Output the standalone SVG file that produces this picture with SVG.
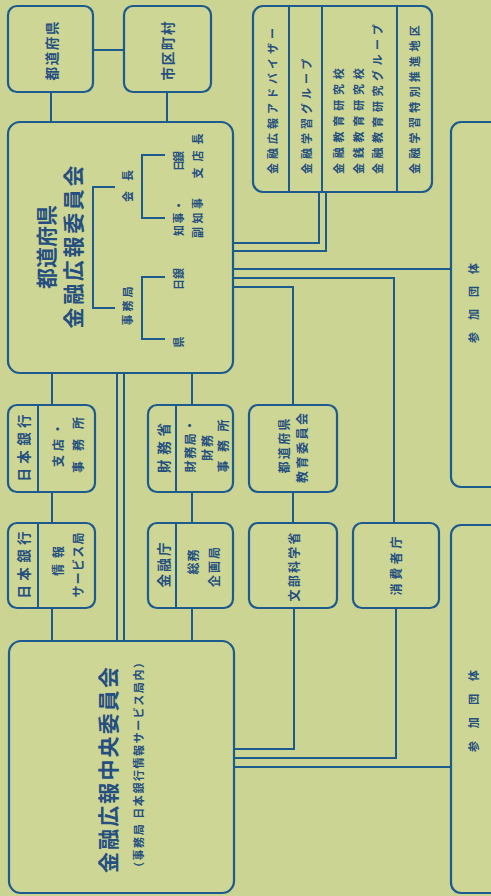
<svg xmlns="http://www.w3.org/2000/svg" width="491" height="896" viewBox="0 0 491 896">
<style>
.bg{fill:#cbd492}
.box{fill:#cdd695;stroke:#1d5a8e;stroke-width:2.2}
.div{stroke:#1d5a8e;stroke-width:2;fill:none}
.ln{stroke:#1d5a8e;stroke-width:2;fill:none}
text{font-family:"Noto Sans CJK JP","Noto Sans CJK SC",sans-serif;fill:#244f80;font-weight:700;text-anchor:middle;dominant-baseline:central}
.s{text-anchor:start}
.h1{font-size:21px}
.h2{font-size:13.5px}
.m{font-size:12px}
.sm{font-size:11px}
</style>
<rect class="bg" x="0" y="0" width="491" height="896"/>

<g id="connectors">
<line class="ln" x1="93" y1="50" x2="124" y2="50"/>
<line class="ln" x1="51" y1="92" x2="51" y2="122"/>
<line class="ln" x1="167" y1="92" x2="167" y2="122"/>
<line class="ln" x1="52" y1="373" x2="52" y2="405"/>
<line class="ln" x1="52" y1="492" x2="52" y2="523"/>
<line class="ln" x1="52" y1="608" x2="52" y2="641"/>
<line class="ln" x1="192" y1="373" x2="192" y2="405"/>
<line class="ln" x1="192" y1="492" x2="192" y2="523"/>
<line class="ln" x1="192" y1="608" x2="192" y2="641"/>
<line class="ln" x1="117" y1="373" x2="117" y2="641"/>
<line class="ln" x1="124" y1="373" x2="124" y2="641"/>
<polyline class="ln" points="233,243 319,243 319,192"/>
<polyline class="ln" points="233,251 326,251 326,192"/>
<line class="ln" x1="233" y1="269" x2="451" y2="269"/>
<polyline class="ln" points="233,278 394,278 394,523"/>
<polyline class="ln" points="233,287 293,287 293,405"/>
<line class="ln" x1="293" y1="492" x2="293" y2="523"/>
<polyline class="ln" points="294,608 294,749 234,749"/>
<polyline class="ln" points="396,608 396,758 234,758"/>
<line class="ln" x1="234" y1="767" x2="451" y2="767"/>
</g>

<g id="pref">
<rect class="box" x="8" y="6" width="85" height="86" rx="9"/>
<text class="h2" transform="translate(51 51) rotate(-90)" textLength="59">都道府県</text>
</g>

<g id="muni">
<rect class="box" x="124" y="6" width="87" height="86" rx="9"/>
<text class="h2" transform="translate(167 51) rotate(-90)" textLength="59">市区町村</text>
</g>

<g id="pref-committee">
<rect class="box" x="8" y="122" width="225" height="251" rx="12" stroke-width="2.6"/>
<text class="h1" transform="translate(45 247) rotate(-90)" textLength="84">都道府県</text>
<text class="h1" transform="translate(72 247) rotate(-90)" textLength="163">金融広報委員会</text>
<polyline class="div" points="115,187 93,187 93,308 115,308"/>
<polyline class="div" points="165,155 142,155 142,218 165,218"/>
<polyline class="div" points="165,277 142,277 142,339 165,339"/>
<text class="sm" transform="translate(127 186) rotate(-90)" textLength="32">会長</text>
<text class="sm" transform="translate(127 306) rotate(-90)" textLength="39">事務局</text>
<text class="sm" transform="translate(178 161) rotate(-90)" textLength="20">日銀</text>
<text class="sm" transform="translate(197 156) rotate(-90)" textLength="45">支店長</text>
<text class="sm" transform="translate(178 218) rotate(-90)" textLength="36">知事・</text>
<text class="sm" transform="translate(197 218) rotate(-90)" textLength="40">副知事</text>
<text class="sm" transform="translate(178 279) rotate(-90)" textLength="22">日銀</text>
<text class="sm" transform="translate(178 342) rotate(-90)">県</text>
</g>

<g id="members">
<rect class="box" x="253" y="6" width="179" height="186" rx="10"/>
<line class="div" x1="289" y1="6" x2="289" y2="192"/>
<line class="div" x1="322" y1="6" x2="322" y2="192"/>
<line class="div" x1="397" y1="6" x2="397" y2="192"/>
<text class="sm s" transform="translate(272 174) rotate(-90)" letter-spacing="4">金融広報アドバイザー</text>
<text class="sm s" transform="translate(306 174) rotate(-90)" letter-spacing="4">金融学習グループ</text>
<text class="sm s" transform="translate(338 174) rotate(-90)" letter-spacing="4.8">金融教育研究校</text>
<text class="sm s" transform="translate(358 174) rotate(-90)" letter-spacing="4.8">金銭教育研究校</text>
<text class="sm s" transform="translate(377 174) rotate(-90)" letter-spacing="4.5">金融教育研究グループ</text>
<text class="sm s" transform="translate(414 174) rotate(-90)" letter-spacing="4.3">金融学習特別推進地区</text>
</g>

<g id="sanka-1">
<rect class="box" x="451" y="122" width="60" height="365" rx="10"/>
<text class="sm" transform="translate(473 303) rotate(-90)" textLength="80">参加団体</text>
</g>

<g id="sanka-2">
<rect class="box" x="451" y="525" width="60" height="368" rx="10"/>
<text class="sm" transform="translate(473 711) rotate(-90)" textLength="82">参加団体</text>
</g>

<g id="boj-branch">
<rect class="box" x="8" y="405" width="87" height="87" rx="9"/>
<line class="div" x1="38" y1="405" x2="38" y2="492"/>
<text class="h2" transform="translate(23 448) rotate(-90)" textLength="67">日本銀行</text>
<text class="m" transform="translate(57 445) rotate(-90)" textLength="44">支店・</text>
<text class="m" transform="translate(77 445) rotate(-90)" textLength="56">事務所</text>
</g>

<g id="boj-info">
<rect class="box" x="8" y="523" width="87" height="85" rx="9"/>
<line class="div" x1="38" y1="523" x2="38" y2="608"/>
<text class="h2" transform="translate(23 565) rotate(-90)" textLength="67">日本銀行</text>
<text class="m" transform="translate(57 561) rotate(-90)" textLength="30">情報</text>
<text class="m" transform="translate(77 565) rotate(-90)" textLength="65">サービス局</text>
</g>

<g id="mof">
<rect class="box" x="148" y="405" width="85" height="87" rx="9"/>
<line class="div" x1="176" y1="405" x2="176" y2="492"/>
<text class="h2" transform="translate(163 448) rotate(-90)" textLength="50">財務省</text>
<text class="m" transform="translate(189 446) rotate(-90)" textLength="53">財務局・</text>
<text class="m" transform="translate(206 448) rotate(-90)" textLength="26">財務</text>
<text class="m" transform="translate(222 446) rotate(-90)" textLength="53">事務所</text>
</g>

<g id="fsa">
<rect class="box" x="148" y="523" width="85" height="85" rx="9"/>
<line class="div" x1="176" y1="523" x2="176" y2="608"/>
<text class="h2" transform="translate(163 565) rotate(-90)" textLength="45">金融庁</text>
<text class="m" transform="translate(192 562) rotate(-90)" textLength="25">総務</text>
<text class="m" transform="translate(213 567) rotate(-90)" textLength="40">企画局</text>
</g>

<g id="edu-board">
<rect class="box" x="249" y="405" width="88" height="87" rx="9"/>
<text class="m" transform="translate(283 446) rotate(-90)" textLength="55">都道府県</text>
<text class="m" transform="translate(301 448) rotate(-90)" textLength="70">教育委員会</text>
</g>

<g id="mext">
<rect class="box" x="249" y="523" width="88" height="85" rx="9"/>
<text class="m" transform="translate(293 567) rotate(-90)" textLength="69">文部科学省</text>
</g>

<g id="caa">
<rect class="box" x="353" y="523" width="86" height="85" rx="9"/>
<text class="m" transform="translate(395 566) rotate(-90)" textLength="59">消費者庁</text>
</g>

<g id="central">
<rect class="box" x="9" y="641" width="225" height="252" rx="12" stroke-width="2.6"/>
<text class="h1" transform="translate(107 770) rotate(-90)" textLength="206">金融広報中央委員会</text>
<text class="sm" transform="translate(138 765) rotate(-90)" textLength="216">（事務局 日本銀行情報サービス局内）</text>
</g>
</svg>
